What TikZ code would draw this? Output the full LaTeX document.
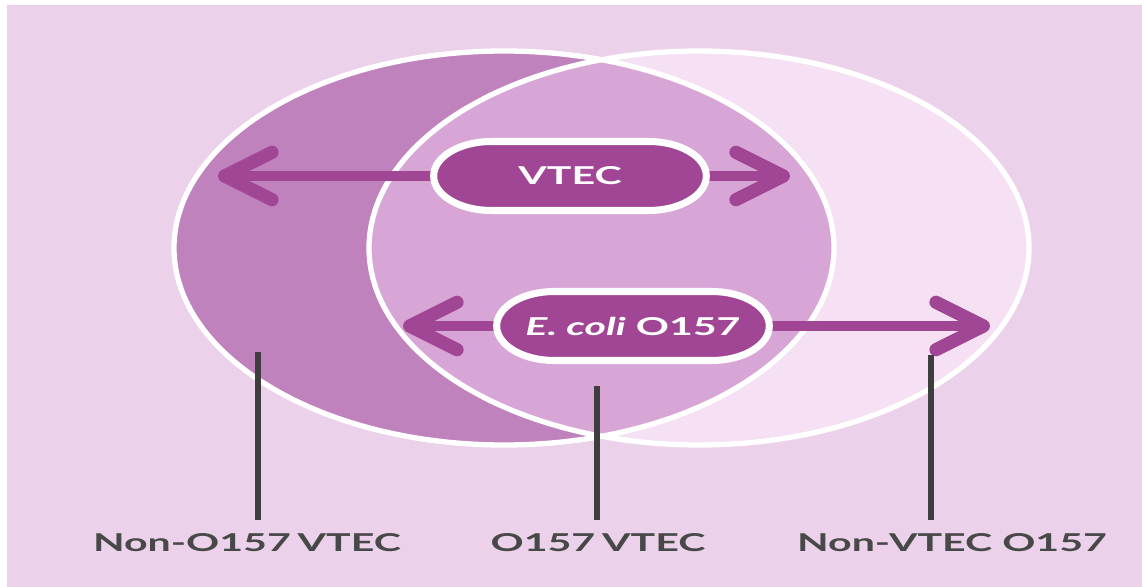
\documentclass[tikz,border=0pt]{standalone}
\usepackage{fontspec}
\setmainfont{Lato}
\usepackage{tikz}
\usetikzlibrary{positioning}
\usetikzlibrary{arrows.meta,shapes.misc}

\definecolor{bgpink}{RGB}{235,210,234}
\definecolor{crescent}{RGB}{192,130,188}
\definecolor{lens}{RGB}{216,166,214}
\definecolor{paleright}{RGB}{245,225,243}
\definecolor{plum}{RGB}{160,70,148}
\definecolor{leadgray}{RGB}{62,62,62}
\definecolor{labelgray}{RGB}{72,72,72}

\tikzset{
  chev/.tip={Straight Barb[length=27pt,width=27pt,line width=7.5pt,round]},
  pill/.style={rounded rectangle, fill=plum, draw=white, line width=4pt,
    text=white, font=\bfseries\fontsize{14}{16}\selectfont,
    minimum width=3.5cm, minimum height=1.38cm, xscale=1.67},
  twoway/.style={plum, line width=6pt, chev-chev},
  leader/.style={leadgray, line width=3.4pt, shorten >=8pt},
  tag/.style={text=labelgray, font=\bfseries\fontsize{14}{16}\selectfont,
    inner sep=0pt, xscale=1.67},
  ring/.style={white, line width=3pt},
}

\begin{document}
\begin{tikzpicture}[x=0.02cm, y=-0.02cm]

	% page, with the thin white margin of the scan
	\fill[white] (0,0) rectangle (1142,587);
	\useasboundingbox (0,0) rectangle (1142,587);
	\fill[bgpink] (7,5) rectangle (1142,587);

	% centres of the two sets
	\coordinate (cL) at (504,248);
	\coordinate (cR) at (699,248);

	% the two sets and their overlap
	\fill[crescent]  (cL) ellipse [x radius=330, y radius=197];
	\fill[paleright] (cR) ellipse [x radius=330, y radius=197];
	\begin{scope}
		\clip (cL) ellipse [x radius=330, y radius=197];
		\fill[lens] (cR) ellipse [x radius=330, y radius=197];
	\end{scope}
	\draw[ring] (cL) ellipse [x radius=330, y radius=197];
	\draw[ring] (cR) ellipse [x radius=330, y radius=197];

	% the two set names, with their double arrows
	\coordinate (vL) at (218,176);
	\coordinate (vR) at (790,176);
	\coordinate (eL) at (403,326);
	\coordinate (eR) at (990,326);

	\draw[twoway] (vL) -- (vR);
	\draw[twoway] (eL) -- (eR);

	\node[pill] (vtec)  at (570,176) {VTEC};
	\node[pill] (ecoli) at (633,326) {\textit{E. coli} O157};

	% the three regions and their labels
	\node[tag] (nonvt)  at (247,543) {Non-O157\,VTEC};
	\node[tag] (o157vt) at (598,543) {O157\,VTEC};
	\node[tag] (nonvo)  at (952,543) {Non-VTEC O157};

	\coordinate (pA) at (258,352);
	\coordinate (pB) at (597,386);
	\coordinate (pC) at (931,355);

	\draw[leader] (pA) -- (pA |- nonvt.north);
	\draw[leader] (pB) -- (pB |- o157vt.north);
	\draw[leader] (pC) -- (pC |- nonvo.north);

\end{tikzpicture}
\end{document}
